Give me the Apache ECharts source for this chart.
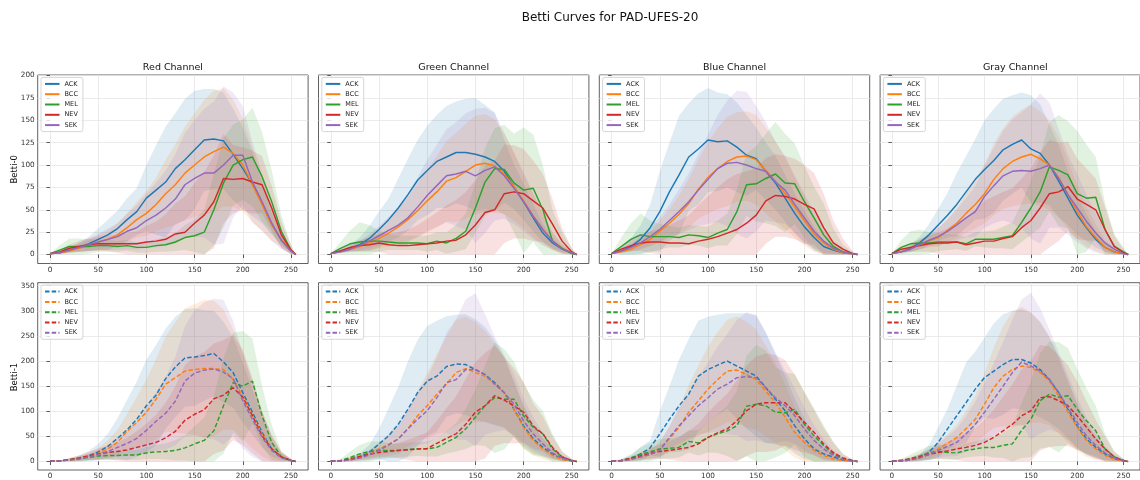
<!DOCTYPE html>
<html>
<head>
<meta charset="utf-8">
<script src="https://cdn.jsdelivr.net/npm/echarts@6/dist/echarts.min.js"></script>
<style>
  html, body { margin: 0; padding: 0; background: #fff; }
  #chart { width: 1140px; height: 480px; }
</style>
</head>
<body>
<div id="chart"></div>
<script>
// Filtration thresholds (pixel intensity) at which the curves are sampled
const X = [0,10,20,30,40,50,60,70,80,90,100,110,120,130,140,150,160,170,180,190,200,210,220,230,240,250,255];

const CLASSES = ['ACK', 'BCC', 'MEL', 'NEV', 'SEK'];
const COLORS = ['#1f77b4', '#ff7f0e', '#2ca02c', '#d62728', '#9467bd'];
const CHANNELS = ['Red Channel', 'Green Channel', 'Blue Channel', 'Gray Channel'];
const ROW_LABELS = ['Betti-0', 'Betti-1'];
const X_TICKS = [0, 50, 100, 150, 200, 250];
const B0_TICKS = [0, 25, 50, 75, 100, 125, 150, 175, 200];
const B1_TICKS = [0, 50, 100, 150, 200, 250, 300, 350];

// ---- Betti-0, red channel: mean and standard deviation per class ----
const red0_ACK = [1,2,5,8,12,17,22,29,39,48,63,72,81,96,106,117,128,129,127,112,96,79,57,34,16,4,0];
const red0_ACK_sd = [0,1,3,5,8,12,17,20,24,26,37,50,62,62,68,66,57,56,54,51,46,36,22,12,5,2,0];
const red0_BCC = [1,2,4,7,10,14,17,22,30,39,46,56,68,78,91,100,109,115,120,113,100,78,56,33,17,4,0];
const red0_BCC_sd = [0,1,2,4,6,8,10,13,16,20,25,30,38,45,52,58,64,68,66,60,52,42,30,18,8,3,0];
const red0_MEL = [1,5,9,9,9,10,10,9,10,8,8,10,11,14,19,21,25,50,80,100,106,109,87,59,26,5,0];
const red0_MEL_sd = [0,5,9,9,8,7,6,6,6,6,6,7,8,10,14,18,25,40,50,45,45,55,50,35,18,6,0];
const red0_NEV = [1,3,7,9,11,12,12,12,12,12,14,15,17,23,25,35,44,59,85,84,85,81,78,52,22,5,0];
const red0_NEV_sd = [0,2,4,6,7,8,9,10,12,14,18,22,28,34,40,45,48,52,50,38,35,35,32,25,15,5,0];
const red0_SEK = [1,2,5,8,11,14,17,20,26,30,38,44,52,62,78,85,91,91,100,111,111,81,59,35,16,4,0];
const red0_SEK_sd = [0,1,3,5,7,9,12,15,20,25,30,36,42,50,58,65,72,80,88,70,55,45,32,20,10,3,0];

// ---- Betti-0, green channel ----
const green0_ACK = [1,4,7,11,18,28,39,52,67,83,94,104,109,114,114,112,109,104,93,76,59,41,24,13,6,2,0];
const green0_ACK_sd = [0,2,4,8,14,20,24,33,40,45,50,52,57,57,60,63,58,55,35,25,20,15,10,6,3,1,0];
const green0_BCC = [1,3,6,9,13,18,24,31,39,49,60,70,82,86,93,100,102,99,90,76,60,43,28,15,7,2,0];
const green0_BCC_sd = [0,1,3,5,8,11,15,20,25,30,35,40,45,50,53,55,55,52,45,38,30,24,17,10,5,2,0];
const green0_MEL = [1,7,12,14,15,15,14,13,13,13,12,15,13,18,26,52,81,96,95,80,72,74,50,15,7,1,0];
const green0_MEL_sd = [0,7,15,22,18,12,9,8,8,8,9,10,12,15,20,28,38,45,50,55,70,60,50,35,18,6,0];
const green0_NEV = [1,4,8,10,11,13,11,10,10,11,12,13,15,16,22,33,47,50,68,70,68,60,52,34,15,3,0];
const green0_NEV_sd = [0,2,4,6,8,10,12,15,18,22,28,34,40,45,48,50,52,55,55,52,50,45,38,28,14,4,0];
const green0_SEK = [1,3,6,10,15,21,27,33,41,53,66,77,88,90,93,88,94,98,88,74,59,43,28,15,6,2,0];
const green0_SEK_sd = [0,1,3,5,8,11,15,20,26,33,40,46,52,58,65,75,70,60,48,40,33,26,18,10,5,2,0];

// ---- Betti-0, blue channel ----
const blue0_ACK = [1,4,9,17,30,48,70,89,109,118,128,126,127,120,111,107,93,80,63,46,31,19,9,5,2,1,0];
const blue0_ACK_sd = [0,4,9,16,26,45,55,66,60,62,58,55,52,50,45,35,32,30,26,22,18,12,7,4,2,1,0];
const blue0_BCC = [1,3,6,11,17,26,35,45,57,73,86,96,104,109,110,106,94,82,68,53,38,23,13,6,2,1,0];
const blue0_BCC_sd = [0,1,3,5,8,12,16,21,27,33,40,45,50,50,50,50,48,45,40,34,28,20,13,7,3,1,0];
const blue0_MEL = [1,9,17,22,20,20,20,19,22,21,19,24,28,48,78,79,85,90,80,79,59,41,22,9,3,1,0];
const blue0_MEL_sd = [0,10,18,24,18,14,12,11,11,11,12,14,18,25,35,42,50,58,55,45,40,35,35,20,8,2,0];
const blue0_NEV = [1,6,10,13,14,14,13,13,12,15,17,20,24,28,35,44,60,66,65,62,56,51,30,13,6,1,0];
const blue0_NEV_sd = [0,3,6,9,12,15,20,25,32,40,48,55,60,62,58,52,48,46,45,45,44,40,38,25,12,3,0];
const blue0_SEK = [1,4,8,13,20,28,38,48,59,72,84,96,102,103,100,96,93,81,72,56,41,26,15,7,3,1,0];
const blue0_SEK_sd = [0,2,4,7,10,14,18,25,32,40,50,60,70,80,82,70,55,45,38,32,27,22,15,8,4,1,0];

// ---- Betti-0, gray channel ----
const gray0_ACK = [1,3,7,13,22,33,44,56,70,84,95,105,117,123,128,118,113,100,82,63,44,30,17,8,3,1,0];
const gray0_ACK_sd = [0,2,4,7,12,18,25,35,40,45,55,58,57,55,53,60,55,45,40,30,22,15,9,5,2,1,0];
const gray0_BCC = [1,3,6,11,15,19,27,35,46,56,68,84,96,104,109,112,107,100,86,67,48,31,19,8,3,1,0];
const gray0_BCC_sd = [0,1,3,5,7,10,13,17,22,27,33,40,45,50,53,55,53,50,45,38,30,22,15,8,4,1,0];
const gray0_MEL = [1,8,12,13,13,14,14,14,12,17,17,17,19,21,36,52,70,98,94,89,68,63,64,28,9,3,0];
const gray0_MEL_sd = [0,8,14,15,12,10,9,8,8,8,9,10,12,15,22,30,40,50,62,60,70,60,45,30,14,5,0];
const gray0_NEV = [1,6,8,10,12,13,13,14,11,13,15,15,18,20,30,38,52,68,70,76,62,56,50,28,9,2,0];
const gray0_NEV_sd = [0,3,5,7,9,12,16,22,30,38,45,50,52,54,55,58,62,60,55,50,45,40,35,25,12,4,0];
const gray0_SEK = [1,3,6,11,16,20,26,33,41,48,65,77,88,93,94,93,96,100,85,67,52,37,24,13,6,1,0];
const gray0_SEK_sd = [0,1,3,5,7,10,13,17,22,28,35,42,50,58,65,75,84,70,55,45,38,30,22,13,6,2,0];

// ---- Betti-1, red channel ----
const red1_ACK = [1,1,3,6,11,19,30,46,63,84,111,132,165,188,206,208,211,215,198,177,137,98,58,25,9,2,0];
const red1_ACK_sd = [0,1,3,6,10,16,25,40,60,75,92,100,100,100,97,97,90,85,80,70,60,45,30,15,6,2,0];
const red1_BCC = [1,1,3,5,10,16,25,38,60,78,98,124,154,167,180,183,185,185,183,163,130,91,55,25,9,2,0];
const red1_BCC_sd = [0,1,2,4,7,11,17,25,35,50,65,80,95,110,125,130,137,135,120,100,85,65,45,25,10,3,0];
const red1_MEL = [1,1,3,6,8,11,12,12,13,13,17,19,20,22,27,35,42,61,111,157,150,160,91,38,9,2,0];
const red1_MEL_sd = [0,1,3,5,6,8,9,9,10,10,12,14,16,20,25,35,45,70,95,100,110,85,60,35,12,3,0];
const red1_NEV = [1,1,4,7,11,15,18,20,23,28,33,38,47,60,82,94,103,125,132,147,128,91,51,25,9,2,0];
const red1_NEV_sd = [0,1,3,5,8,11,14,18,24,32,42,55,70,90,110,115,115,110,110,105,95,75,50,28,10,3,0];
const red1_SEK = [1,1,3,5,9,14,20,28,36,46,62,80,96,120,160,176,182,184,178,165,121,84,48,22,7,2,0];
const red1_SEK_sd = [0,1,2,4,6,9,13,18,25,33,45,58,72,88,110,125,135,140,144,115,95,75,50,28,10,3,0];

// ---- Betti-1, green channel ----
const green1_ACK = [1,1,3,9,18,35,51,74,104,137,160,170,189,194,193,183,173,157,137,104,71,45,28,15,5,1,0];
const green1_ACK_sd = [0,1,3,7,15,30,55,75,95,105,110,110,100,98,100,100,95,85,70,55,40,28,18,10,4,1,0];
const green1_BCC = [1,1,3,7,14,25,34,45,65,91,111,134,154,177,185,177,170,154,137,104,68,42,25,12,4,1,0];
const green1_BCC_sd = [0,1,2,5,8,13,18,25,35,50,65,80,95,105,103,100,90,80,70,55,42,30,20,12,5,1,0];
const green1_MEL = [1,2,8,15,20,22,22,22,24,25,25,28,38,48,65,88,111,127,124,124,91,68,55,25,9,2,0];
const green1_MEL_sd = [0,3,12,18,20,18,15,14,14,14,15,18,22,28,40,55,80,110,100,75,65,55,45,30,12,3,0];
const green1_NEV = [1,1,5,10,14,18,20,22,23,25,26,36,46,55,74,98,111,131,122,111,98,71,55,28,9,2,0];
const green1_NEV_sd = [0,1,3,5,7,9,12,15,20,25,32,45,60,75,90,100,105,100,85,75,60,45,35,22,10,3,0];
const green1_SEK = [1,1,3,7,13,22,33,45,65,84,101,127,157,163,183,183,173,154,137,114,81,55,35,17,7,1,0];
const green1_SEK_sd = [0,1,3,6,10,15,22,30,40,52,65,80,100,120,140,152,120,95,75,60,45,33,22,12,5,1,0];

// ---- Betti-1, blue channel ----
const blue1_ACK = [1,2,6,15,27,55,84,111,134,170,183,192,200,190,180,170,147,124,101,71,45,25,15,9,3,1,0];
const blue1_ACK_sd = [0,2,6,14,15,45,66,92,110,110,105,100,95,105,115,120,110,90,70,55,40,28,18,10,4,1,0];
const blue1_BCC = [1,1,4,9,15,25,45,68,98,121,144,163,180,182,173,163,140,117,88,58,38,22,12,5,2,1,0];
const blue1_BCC_sd = [0,1,3,6,10,15,25,40,55,70,85,95,102,107,105,100,90,80,65,50,38,25,15,8,3,1,0];
const blue1_MEL = [1,2,7,14,19,25,26,28,40,37,48,55,61,71,110,114,111,98,97,104,74,51,32,15,5,1,0];
const blue1_MEL_sd = [0,3,8,14,18,20,20,20,22,25,30,38,50,70,100,118,110,90,80,70,65,55,40,25,10,3,0];
const blue1_NEV = [1,2,6,11,16,20,22,25,28,35,48,57,65,81,101,114,117,117,117,98,78,58,35,18,7,2,0];
const blue1_NEV_sd = [0,2,4,7,10,14,18,24,32,40,50,60,70,80,90,95,98,95,85,75,60,45,32,20,8,2,0];
const blue1_SEK = [1,1,4,9,14,22,48,71,91,111,127,144,154,167,169,167,147,127,111,91,65,42,25,12,4,1,0];
const blue1_SEK_sd = [0,1,3,6,10,15,22,35,45,58,70,85,100,115,128,125,110,90,70,55,42,30,20,10,4,1,0];

// ---- Betti-1, gray channel ----
const gray1_ACK = [1,1,3,8,18,38,65,91,117,144,167,180,193,203,203,196,183,163,137,104,71,45,28,15,5,1,0];
const gray1_ACK_sd = [0,1,3,6,15,30,40,60,80,75,80,95,100,97,100,100,95,85,72,58,44,32,22,12,5,1,0];
const gray1_BCC = [1,1,3,7,15,25,36,48,65,84,114,147,170,183,190,187,177,160,131,98,68,42,25,12,4,1,0];
const gray1_BCC_sd = [0,1,2,5,8,12,18,25,35,48,62,80,100,115,118,110,100,88,75,60,46,33,22,12,5,1,0];
const gray1_MEL = [1,2,6,11,17,20,18,17,22,25,28,28,32,35,62,84,121,134,128,131,104,81,61,25,9,2,0];
const gray1_MEL_sd = [0,3,8,12,14,14,13,13,14,15,17,20,25,35,55,75,95,105,110,95,80,65,50,30,12,3,0];
const gray1_NEV = [1,2,5,9,14,18,21,25,28,32,38,48,61,74,91,101,127,129,121,111,91,68,45,25,9,2,0];
const gray1_NEV_sd = [0,2,4,7,10,13,17,22,28,35,45,55,68,80,92,100,105,100,90,80,68,52,38,25,10,3,0];
const gray1_SEK = [1,1,3,7,14,22,30,38,55,74,98,124,150,177,198,190,180,163,137,107,78,51,32,17,7,1,0];
const gray1_SEK_sd = [0,1,3,6,10,14,20,27,35,45,58,72,88,105,125,146,125,100,80,65,50,37,25,14,6,2,0];

// Panel lookup: [row][column] -> class -> [mean, sd]
const PANELS = [
  [
    { ACK: [red0_ACK, red0_ACK_sd], BCC: [red0_BCC, red0_BCC_sd], MEL: [red0_MEL, red0_MEL_sd], NEV: [red0_NEV, red0_NEV_sd], SEK: [red0_SEK, red0_SEK_sd] },
    { ACK: [green0_ACK, green0_ACK_sd], BCC: [green0_BCC, green0_BCC_sd], MEL: [green0_MEL, green0_MEL_sd], NEV: [green0_NEV, green0_NEV_sd], SEK: [green0_SEK, green0_SEK_sd] },
    { ACK: [blue0_ACK, blue0_ACK_sd], BCC: [blue0_BCC, blue0_BCC_sd], MEL: [blue0_MEL, blue0_MEL_sd], NEV: [blue0_NEV, blue0_NEV_sd], SEK: [blue0_SEK, blue0_SEK_sd] },
    { ACK: [gray0_ACK, gray0_ACK_sd], BCC: [gray0_BCC, gray0_BCC_sd], MEL: [gray0_MEL, gray0_MEL_sd], NEV: [gray0_NEV, gray0_NEV_sd], SEK: [gray0_SEK, gray0_SEK_sd] }
  ],
  [
    { ACK: [red1_ACK, red1_ACK_sd], BCC: [red1_BCC, red1_BCC_sd], MEL: [red1_MEL, red1_MEL_sd], NEV: [red1_NEV, red1_NEV_sd], SEK: [red1_SEK, red1_SEK_sd] },
    { ACK: [green1_ACK, green1_ACK_sd], BCC: [green1_BCC, green1_BCC_sd], MEL: [green1_MEL, green1_MEL_sd], NEV: [green1_NEV, green1_NEV_sd], SEK: [green1_SEK, green1_SEK_sd] },
    { ACK: [blue1_ACK, blue1_ACK_sd], BCC: [blue1_BCC, blue1_BCC_sd], MEL: [blue1_MEL, blue1_MEL_sd], NEV: [blue1_NEV, blue1_NEV_sd], SEK: [blue1_SEK, blue1_SEK_sd] },
    { ACK: [gray1_ACK, gray1_ACK_sd], BCC: [gray1_BCC, gray1_BCC_sd], MEL: [gray1_MEL, gray1_MEL_sd], NEV: [gray1_NEV, gray1_NEV_sd], SEK: [gray1_SEK, gray1_SEK_sd] }
  ]
];

// ---- layout ----
const FONT = "'DejaVu Sans', sans-serif";
const COL_LEFT0 = 37.7, COL_PITCH = 280.8, PANEL_W = 270.4;
const ROW_TOP = [75, 282.7], ROW_H = [188.5, 188.6];
const X_RANGE = [-12.75, 267.75];
const Y_RANGE = [[-10, 200.6], [-17, 356]];
const Y_TICKS = [B0_TICKS, B1_TICKS];

function rgba(hex, a) {
  const n = parseInt(hex.slice(1), 16);
  return `rgba(${(n >> 16) & 255},${(n >> 8) & 255},${n & 255},${a})`;
}

// Shaded mean ± sd band, drawn as one polygon through the axis scales
function bandSeries(g, cls, color, mean, sd) {
  const lo = mean.map((m, i) => Math.max(m - sd[i], 0));
  const hi = mean.map((m, i) => m + sd[i]);
  return {
    type: 'custom', name: cls + ' band ' + g,
    xAxisIndex: g, yAxisIndex: g, silent: true, z: 1, clip: true,
    data: X.map((x, i) => [x, lo[i], hi[i]]),
    encode: { x: 0, y: [1, 2] },
    renderItem: function (params, api) {
      if (params.dataIndex !== 0) return null;
      const pts = [];
      for (let i = 0; i < X.length; i++) pts.push(api.coord([X[i], hi[i]]));
      for (let i = X.length - 1; i >= 0; i--) pts.push(api.coord([X[i], lo[i]]));
      return { type: 'polygon', shape: { points: pts }, style: { fill: rgba(color, 0.14) } };
    }
  };
}

const grids = [], xAxes = [], yAxes = [], series = [], legends = [], titles = [], graphics = [];

titles.push({
  text: 'Betti Curves for PAD-UFES-20', left: 610, top: 12, textAlign: 'center', padding: 0,
  textStyle: { fontSize: 12, fontWeight: 'normal', color: '#111', fontFamily: FONT }
});

for (let r = 0; r < 2; r++) {
  for (let c = 0; c < 4; c++) {
    const g = r * 4 + c;
    const left = COL_LEFT0 + c * COL_PITCH;
    const top = ROW_TOP[r];
    grids.push({ left: left, top: top, width: PANEL_W, height: ROW_H[r], show: true,
      borderColor: '#3a3a3a', borderWidth: 0.8, backgroundColor: 'transparent' });
    xAxes.push({
      type: 'value', gridIndex: g, min: X_RANGE[0], max: X_RANGE[1],
      axisLine: { show: false },
      axisTick: { show: true, length: 3.5, customValues: X_TICKS, lineStyle: { color: '#333', width: 0.8 } },
      axisLabel: { customValues: X_TICKS, fontSize: 7.3, color: '#333', margin: 3, fontFamily: FONT },
      splitLine: { show: true, lineStyle: { color: '#e6e6e6', width: 0.8 } }
    });
    yAxes.push({
      type: 'value', gridIndex: g, min: Y_RANGE[r][0], max: Y_RANGE[r][1],
      axisLine: { show: false },
      axisTick: { show: true, length: 3.5, customValues: Y_TICKS[r], lineStyle: { color: '#333', width: 0.8 } },
      axisLabel: { show: c === 0, customValues: Y_TICKS[r], fontSize: 7.3, color: '#333', margin: 3, fontFamily: FONT },
      splitLine: { show: true, lineStyle: { color: '#e6e6e6', width: 0.8 } }
    });
    if (r === 0) {
      titles.push({
        text: CHANNELS[c], left: left + PANEL_W / 2, top: 62.5, textAlign: 'center', padding: 0,
        textStyle: { fontSize: 9.5, fontWeight: 'normal', color: '#111', fontFamily: FONT }
      });
    }
    const panel = PANELS[r][c];
    const names = [];
    CLASSES.forEach((cls, k) => {
      const [mean, sd] = panel[cls];
      series.push(bandSeries(g, cls, COLORS[k], mean, sd));
    });
    CLASSES.forEach((cls, k) => {
      const [mean] = panel[cls];
      const name = r === 0 ? cls : cls + '|1';
      names.push(name);
      series.push({
        type: 'line', name: name, xAxisIndex: g, yAxisIndex: g, z: 3,
        data: X.map((x, i) => [x, mean[i]]),
        symbol: 'none', showSymbol: false, silent: true,
        lineStyle: { color: COLORS[k], width: 1.45, type: r === 0 ? 'solid' : [4.5, 2.2] },
        itemStyle: { color: COLORS[k] },
        emphasis: { disabled: true }
      });
    });
    legends.push({
      left: left + 3.3, top: top + 2.4, orient: 'vertical', data: names,
      itemWidth: 14.5, itemHeight: 6.5, itemGap: 3.3, padding: [3, 5, 3, 3],
      formatter: n => n.split('|')[0],
      itemStyle: { color: 'rgba(0,0,0,0)', borderColor: 'rgba(0,0,0,0)', borderWidth: 0, opacity: 0 },
      textStyle: { fontSize: 6.5, color: '#222', fontFamily: FONT },
      backgroundColor: 'rgba(255,255,255,0.8)', borderColor: '#cccccc', borderWidth: 0.8, borderRadius: 2,
      selectedMode: false, z: 10
    });
  }
}

ROW_LABELS.forEach((label, r) => {
  graphics.push({
    type: 'text', x: 14.3, y: ROW_TOP[r] + ROW_H[r] / 2, rotation: Math.PI / 2,
    style: { text: label, fill: '#111', font: '8.5px ' + FONT, align: 'center', verticalAlign: 'middle' }
  });
});

const chart = echarts.init(document.getElementById('chart'), null, { renderer: 'canvas' });
chart.setOption({
  animation: false,
  backgroundColor: '#fff',
  title: titles,
  grid: grids,
  xAxis: xAxes,
  yAxis: yAxes,
  legend: legends,
  graphic: graphics,
  series: series
});
</script>
</body>
</html>
